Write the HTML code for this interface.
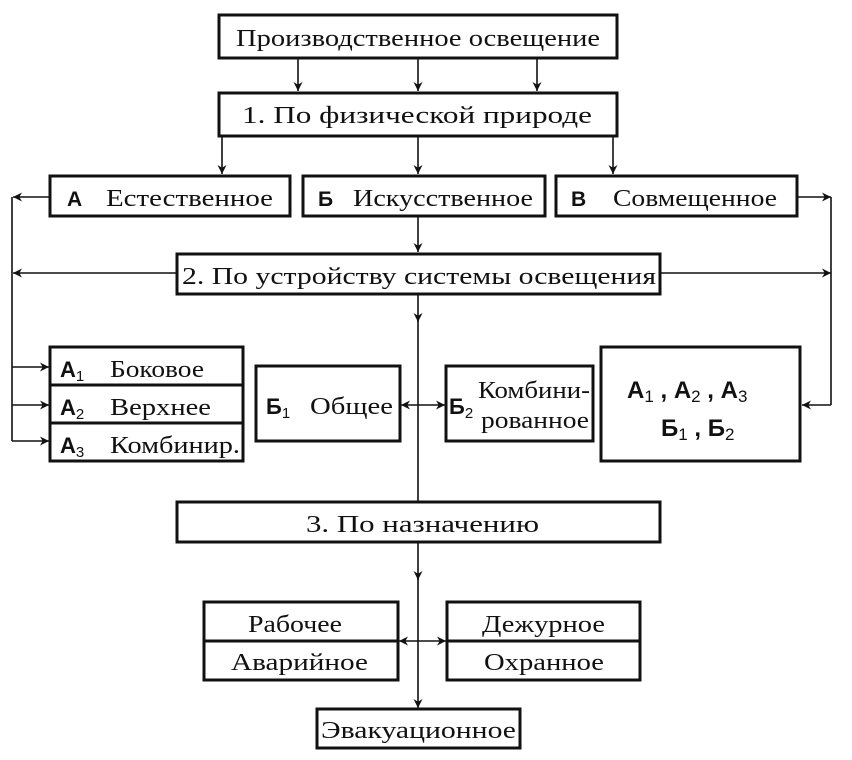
<!DOCTYPE html>
<html><head><meta charset="utf-8"><style>
html,body{margin:0;padding:0;background:#fff;}
svg{display:block;}
text{font-family:"Liberation Serif",serif;fill:#111;}
.b{font-family:"Liberation Sans",sans-serif;font-weight:bold;}
.s{font-family:"Liberation Sans",sans-serif;}
</style></head><body>
<svg width="852" height="760" viewBox="0 0 852 760" xmlns="http://www.w3.org/2000/svg">
<defs>
<marker id="ar" viewBox="0 0 10 10" refX="10" refY="5" markerWidth="9" markerHeight="9" markerUnits="userSpaceOnUse" orient="auto">
<path d="M0,0 L10,5 L0,10 L3,5 Z" fill="#111"/>
</marker>
</defs>
<g fill="none" stroke="#111" stroke-width="3">
<rect x="219" y="15" width="398" height="43"/>
<rect x="219" y="93" width="398" height="43"/>
<rect x="50" y="176" width="240" height="40"/>
<rect x="303" y="176" width="242" height="40"/>
<rect x="556" y="176" width="241" height="40"/>
<rect x="177" y="254" width="483" height="40"/>
<rect x="50" y="347" width="193" height="114"/>
<line x1="50" y1="385" x2="243" y2="385"/>
<line x1="50" y1="423" x2="243" y2="423"/>
<rect x="256" y="366" width="144" height="75"/>
<rect x="446" y="366" width="147" height="75"/>
<rect x="601" y="347" width="199" height="114"/>
<rect x="177" y="502" width="483" height="40"/>
<rect x="204" y="602" width="194" height="78"/>
<line x1="204" y1="641" x2="398" y2="641"/>
<rect x="447" y="602" width="193" height="78"/>
<line x1="447" y1="641" x2="640" y2="641"/>
<rect x="317" y="709" width="203" height="39"/>
</g>
<g fill="none" stroke="#111" stroke-width="1.6">
<line x1="298" y1="58" x2="298" y2="91" marker-end="url(#ar)"/>
<line x1="418" y1="58" x2="418" y2="91" marker-end="url(#ar)"/>
<line x1="537" y1="58" x2="537" y2="91" marker-end="url(#ar)"/>
<line x1="222" y1="136" x2="222" y2="174" marker-end="url(#ar)"/>
<line x1="418" y1="136" x2="418" y2="174" marker-end="url(#ar)"/>
<line x1="613" y1="136" x2="613" y2="174" marker-end="url(#ar)"/>
<line x1="418" y1="216" x2="418" y2="252" marker-end="url(#ar)"/>
<line x1="50" y1="197" x2="13" y2="197" marker-end="url(#ar)"/>
<line x1="797" y1="197" x2="831" y2="197" marker-end="url(#ar)"/>
<line x1="177" y1="273" x2="13" y2="273" marker-end="url(#ar)"/>
<line x1="660" y1="273" x2="831" y2="273" marker-end="url(#ar)"/>
<line x1="12" y1="197" x2="12" y2="441"/>
<line x1="831" y1="197" x2="831" y2="405"/>
<line x1="12" y1="367" x2="49" y2="367" marker-end="url(#ar)"/>
<line x1="12" y1="405" x2="49" y2="405" marker-end="url(#ar)"/>
<line x1="12" y1="441" x2="49" y2="441" marker-end="url(#ar)"/>
<line x1="831" y1="405" x2="802" y2="405" marker-end="url(#ar)"/>
<line x1="418" y1="294" x2="418" y2="322" marker-end="url(#ar)"/>
<line x1="418" y1="320" x2="418" y2="502"/>
<line x1="418" y1="405" x2="401" y2="405" marker-end="url(#ar)"/>
<line x1="418" y1="405" x2="445" y2="405" marker-end="url(#ar)"/>
<line x1="418" y1="542" x2="418" y2="580" marker-end="url(#ar)"/>
<line x1="418" y1="578" x2="418" y2="708" marker-end="url(#ar)"/>
<line x1="418" y1="641" x2="399" y2="641" marker-end="url(#ar)"/>
<line x1="418" y1="641" x2="446" y2="641" marker-end="url(#ar)"/>
</g>
<g font-size="24">
<text x="236" y="46" textLength="364" lengthAdjust="spacingAndGlyphs">Производственное освещение</text>
<text x="242" y="123" textLength="350" lengthAdjust="spacingAndGlyphs">1.  По физической природе</text>
<text x="67" y="206" class="b" font-size="21">А</text>
<text x="106" y="206" textLength="167" lengthAdjust="spacingAndGlyphs">Естественное</text>
<text x="318" y="206" class="b" font-size="21">Б</text>
<text x="353" y="206" textLength="180" lengthAdjust="spacingAndGlyphs">Искусственное</text>
<text x="571" y="206" class="b" font-size="21">В</text>
<text x="613" y="206" textLength="164" lengthAdjust="spacingAndGlyphs">Совмещенное</text>
<text x="182" y="284" textLength="474" lengthAdjust="spacingAndGlyphs">2. По устройству системы освещения</text>
<text x="60" y="377" class="b" font-size="22">А<tspan class="s" font-size="15" font-weight="normal" dy="4">1</tspan></text>
<text x="110" y="377" textLength="94" lengthAdjust="spacingAndGlyphs">Боковое</text>
<text x="60" y="415" class="b" font-size="22">А<tspan class="s" font-size="15" font-weight="normal" dy="4">2</tspan></text>
<text x="110" y="415" textLength="101" lengthAdjust="spacingAndGlyphs">Верхнее</text>
<text x="60" y="453" class="b" font-size="22">А<tspan class="s" font-size="15" font-weight="normal" dy="4">3</tspan></text>
<text x="110" y="453" textLength="130" lengthAdjust="spacingAndGlyphs">Комбинир.</text>
<text x="266" y="414" class="b" font-size="22">Б<tspan class="s" font-size="15" font-weight="normal" dy="4">1</tspan></text>
<text x="310" y="414" textLength="83" lengthAdjust="spacingAndGlyphs">Общее</text>
<text x="449" y="414" class="b" font-size="22">Б<tspan class="s" font-size="15" font-weight="normal" dy="4">2</tspan></text>
<text x="478" y="398" textLength="112" lengthAdjust="spacingAndGlyphs">Комбини-</text>
<text x="481" y="428" textLength="108" lengthAdjust="spacingAndGlyphs">рованное</text>
<text x="627" y="398" class="b" font-size="24">А<tspan class="s" font-size="17" font-weight="normal" dy="4">1</tspan><tspan dy="-4"> , А</tspan><tspan class="s" font-size="17" font-weight="normal" dy="4">2</tspan><tspan dy="-4"> , А</tspan><tspan class="s" font-size="17" font-weight="normal" dy="4">3</tspan></text>
<text x="661" y="436" class="b" font-size="24">Б<tspan class="s" font-size="17" font-weight="normal" dy="4">1</tspan><tspan dy="-4"> , Б</tspan><tspan class="s" font-size="17" font-weight="normal" dy="4">2</tspan></text>
<text x="306" y="532" textLength="233" lengthAdjust="spacingAndGlyphs">3. По назначению</text>
<text x="248" y="632" textLength="94" lengthAdjust="spacingAndGlyphs">Рабочее</text>
<text x="231" y="670" textLength="137" lengthAdjust="spacingAndGlyphs">Аварийное</text>
<text x="482" y="632" textLength="123" lengthAdjust="spacingAndGlyphs">Дежурное</text>
<text x="484" y="670" textLength="120" lengthAdjust="spacingAndGlyphs">Охранное</text>
<text x="321" y="738" textLength="195" lengthAdjust="spacingAndGlyphs">Эвакуационное</text>
</g>
</svg>
</body></html>
